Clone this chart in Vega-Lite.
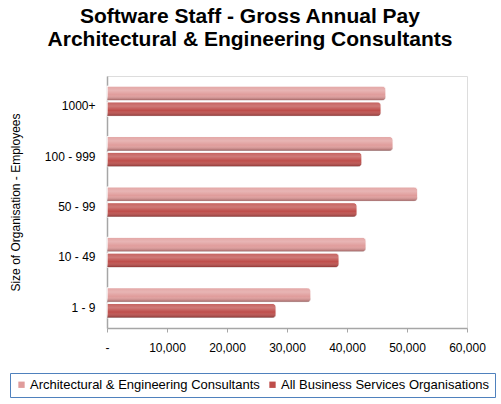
{
  "$schema": "https://vega.github.io/schema/vega-lite/v6.json",
  "width": 360,
  "height": 252,
  "autosize": {"type": "none"},
  "padding": {"left": 107, "top": 76, "right": 34, "bottom": 76},
  "background": "white",
  "title": {
    "text": ["Software Staff - Gross Annual Pay", "Architectural & Engineering Consultants"],
    "font": "Liberation Sans",
    "fontSize": 21,
    "fontWeight": "bold",
    "color": "black",
    "anchor": "middle",
    "dx": -37,
    "lineHeight": 23,
    "offset": 26
  },
  "data": {
    "values": [
      {"size": "1000+", "series": "Architectural & Engineering Consultants", "pay": 46500},
      {"size": "1000+", "series": "All Business Services Organisations", "pay": 45700},
      {"size": "100 - 999", "series": "Architectural & Engineering Consultants", "pay": 47700},
      {"size": "100 - 999", "series": "All Business Services Organisations", "pay": 42500},
      {"size": "50 - 99", "series": "Architectural & Engineering Consultants", "pay": 51800},
      {"size": "50 - 99", "series": "All Business Services Organisations", "pay": 41700},
      {"size": "10 - 49", "series": "Architectural & Engineering Consultants", "pay": 43200},
      {"size": "10 - 49", "series": "All Business Services Organisations", "pay": 38700},
      {"size": "1 - 9", "series": "Architectural & Engineering Consultants", "pay": 34000},
      {"size": "1 - 9", "series": "All Business Services Organisations", "pay": 28200}
    ]
  },
  "encoding": {
    "y": {
      "field": "size",
      "type": "nominal",
      "sort": ["1000+", "100 - 999", "50 - 99", "10 - 49", "1 - 9"],
      "scale": {"paddingInner": 0.4, "paddingOuter": 0.2},
      "axis": {
        "title": "Size of Organisation - Employees",
        "titleFont": "Liberation Sans",
        "titleFontSize": 12,
        "titleFontWeight": "normal",
        "titleColor": "black",
        "titlePadding": 22,
        "labelFont": "Liberation Sans",
        "labelFontSize": 12,
        "labelColor": "black",
        "labelOffset": 5,
        "labelPadding": 12,
        "ticks": false,
        "domainColor": "#A6A6A6",
        "domainWidth": 1.5
      }
    },
    "yOffset": {
      "field": "series",
      "type": "nominal",
      "sort": ["Architectural & Engineering Consultants", "All Business Services Organisations"],
      "scale": {"paddingInner": 0.08}
    },
    "x": {
      "field": "pay",
      "type": "quantitative",
      "scale": {"domain": [0, 60000], "nice": false},
      "axis": {
        "title": null,
        "values": [0, 10000, 20000, 30000, 40000, 50000, 60000],
        "labelExpr": "datum.value == 0 ? '-' : format(datum.value, ',')",
        "labelFont": "Liberation Sans",
        "labelFontSize": 12,
        "labelColor": "black",
        "labelPadding": 10,
        "labelFlush": false,
        "labelOverlap": false,
        "grid": false,
        "domainColor": "#A6A6A6",
        "tickColor": "#A6A6A6",
        "tickSize": 4,
        "domainWidth": 1.5
      }
    }
  },
  "layer": [
    {
      "mark": {"type": "bar", "cornerRadiusEnd": 4, "stroke": "white", "strokeWidth": 0.8},
      "encoding": {
        "color": {
          "field": "series",
          "type": "nominal",
          "sort": ["Architectural & Engineering Consultants", "All Business Services Organisations"],
          "scale": {
            "domain": ["Architectural & Engineering Consultants", "All Business Services Organisations"],
            "range": ["#E09C9B", "#BE4D4A"]
          },
          "legend": {
            "title": null,
            "orient": "none",
            "legendX": -97,
            "legendY": 297,
            "direction": "horizontal",
            "symbolType": "square",
            "symbolSize": 40,
            "symbolStrokeWidth": 0,
            "labelFont": "Liberation Sans",
            "labelFontSize": 13,
            "labelColor": "black",
            "labelOffset": 2,
            "columnPadding": 6,
            "padding": 5,
            "strokeColor": "#4F81BD",
            "labelLimit": 300
          }
        }
      }
    },
    {
      "mark": {
        "type": "bar",
        "cornerRadiusEnd": 4,
        "fill": {
          "gradient": "linear",
          "x1": 0, "y1": 0, "x2": 0, "y2": 1,
          "stops": [
            {"offset": 0, "color": "rgba(255,255,255,0.1)"},
            {"offset": 0.3, "color": "rgba(255,255,255,0.25)"},
            {"offset": 0.6, "color": "rgba(255,255,255,0)"},
            {"offset": 1, "color": "rgba(60,0,0,0.45)"}
          ]
        }
      }
    }
  ]
}
